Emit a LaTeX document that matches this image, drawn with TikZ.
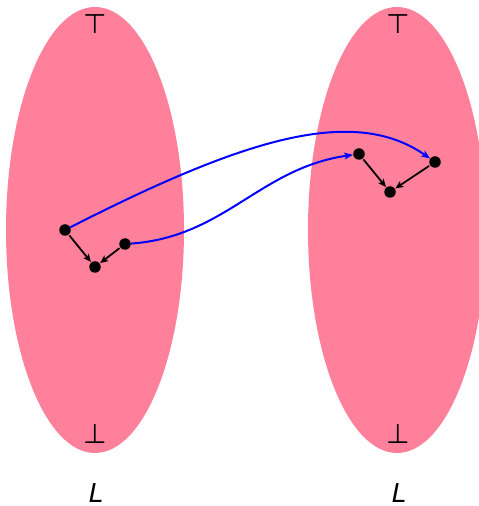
\documentclass[tikz,border=0pt]{standalone}
\usepackage{fontspec}
\setmainfont{DejaVu Sans}
\usetikzlibrary{arrows.meta}
\definecolor{pinkfill}{RGB}{255,128,155}
\begin{document}
\begin{tikzpicture}[x=1pt,y=1pt,
  dot/.style={circle,fill=black,inner sep=0pt,minimum size=11.5pt},
  blackarrow/.style={-{Stealth[length=8pt,width=7pt,inset=2pt]},line width=1.8pt,shorten >=0.5pt,shorten <=1pt},
  bluearrow/.style={-{Stealth[length=9pt,width=7pt,inset=2.5pt]},blue,line width=2pt},
  region/.style={fill=pinkfill,draw=none},
  sym/.style={inner sep=0pt,font=\fontsize{27}{30}\selectfont},
  lab/.style={inner sep=0pt,font=\fontsize{26}{30}\selectfont\itshape}]
\useasboundingbox (0,0) rectangle (479,506);
\clip (0,0) rectangle (479,506);
\fill[region] (95,276) ellipse [x radius=89, y radius=223];
\fill[region] (397,276) ellipse [x radius=89, y radius=223];
\node[sym] (topL) at (95,482) {⊤};
\node[sym] (botL) at (95,72) {⊥};
\node[sym] (topR) at (398,482) {⊤};
\node[sym] (botR) at (398,72) {⊥};
\node[lab] (labL) at (96,13) {L};
\node[lab] (labR) at (399,13) {L};
\node[dot] (a) at (65,276) {};
\node[dot] (b) at (95,239) {};
\node[dot] (c) at (125,262) {};
\node[dot] (d) at (359,352) {};
\node[dot] (e) at (390,314) {};
\node[dot] (f) at (435,344) {};
\draw[blackarrow] (a) -- (b);
\draw[blackarrow] (c) -- (b);
\draw[blackarrow] (d) -- (e);
\draw[blackarrow] (f) -- (e);
\draw[bluearrow] (a) .. controls +(27:200) and +(145:100) .. (f);
\draw[bluearrow] (c) .. controls +(4:100) and +(188:100) .. (d);
\end{tikzpicture}
\end{document}
